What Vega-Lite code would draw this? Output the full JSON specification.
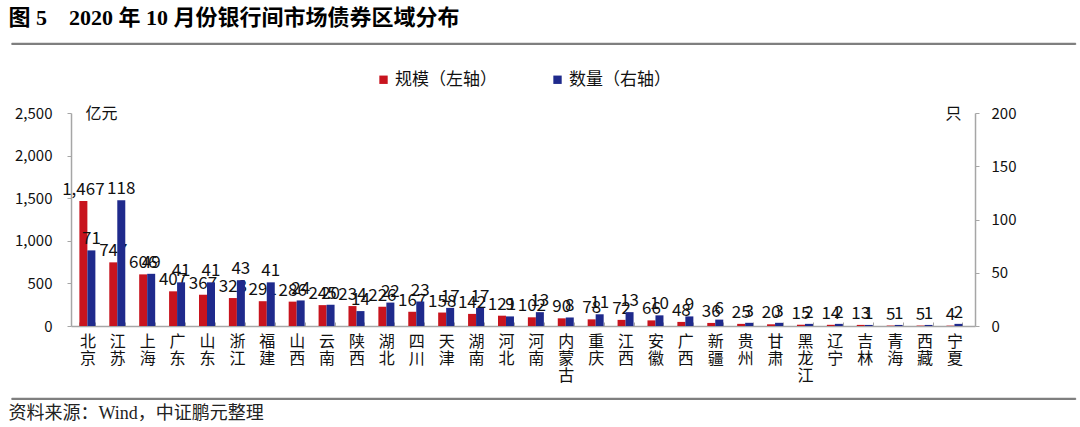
{
  "$schema": "https://vega.github.io/schema/vega-lite/v6.json",
  "padding": {"left": 8, "top": 6, "right": 8, "bottom": 0},
  "autosize": {"type": "pad"},
  "background": "white",
  "spacing": 12,
  "center": true,
  "resolve": {"scale": {"color": "independent"}, "legend": {"color": "independent"}},
  "config": {
    "view": {"stroke": null},
    "font": "Noto Sans CJK SC",
    "legend": {"layout": {"top": {"anchor": "middle"}}}
  },
  "vconcat": [
    {
      "width": 1064,
      "height": 1,
      "view": {"stroke": "#7f7f7f", "strokeWidth": 1},
      "title": {
        "text": "图 5\u00a0\u00a0\u00a0\u00a02020 年 10 月份银行间市场债券区域分布",
        "anchor": "start",
        "font": "Liberation Serif, Noto Sans CJK SC",
        "fontSize": 22,
        "fontWeight": "bold",
        "color": "#000000",
        "offset": 11
      },
      "data": {"values": [{"t": 0}]},
      "mark": {"type": "point", "opacity": 0},
      "encoding": {
        "x": {"field": "t", "type": "quantitative", "scale": {"domain": [0, 1]},
          "axis": {"orient": "top", "labels": false, "ticks": false, "title": null, "grid": false, "domainColor": "#7f7f7f", "domainWidth": 1.5}}
      }
    },
    {
      "width": 904,
      "height": 213,
      "data": {
        "values": [
          {"p": "北京", "s": "规模（左轴）", "v": 1467}, {"p": "北京", "s": "数量（右轴）", "v": 71},
          {"p": "江苏", "s": "规模（左轴）", "v": 747}, {"p": "江苏", "s": "数量（右轴）", "v": 118},
          {"p": "上海", "s": "规模（左轴）", "v": 606}, {"p": "上海", "s": "数量（右轴）", "v": 49},
          {"p": "广东", "s": "规模（左轴）", "v": 407}, {"p": "广东", "s": "数量（右轴）", "v": 41},
          {"p": "山东", "s": "规模（左轴）", "v": 367}, {"p": "山东", "s": "数量（右轴）", "v": 41},
          {"p": "浙江", "s": "规模（左轴）", "v": 328}, {"p": "浙江", "s": "数量（右轴）", "v": 43},
          {"p": "福建", "s": "规模（左轴）", "v": 291}, {"p": "福建", "s": "数量（右轴）", "v": 41},
          {"p": "山西", "s": "规模（左轴）", "v": 286}, {"p": "山西", "s": "数量（右轴）", "v": 24},
          {"p": "云南", "s": "规模（左轴）", "v": 245}, {"p": "云南", "s": "数量（右轴）", "v": 20},
          {"p": "陕西", "s": "规模（左轴）", "v": 234}, {"p": "陕西", "s": "数量（右轴）", "v": 14},
          {"p": "湖北", "s": "规模（左轴）", "v": 226}, {"p": "湖北", "s": "数量（右轴）", "v": 22},
          {"p": "四川", "s": "规模（左轴）", "v": 167}, {"p": "四川", "s": "数量（右轴）", "v": 23},
          {"p": "天津", "s": "规模（左轴）", "v": 158}, {"p": "天津", "s": "数量（右轴）", "v": 17},
          {"p": "湖南", "s": "规模（左轴）", "v": 142}, {"p": "湖南", "s": "数量（右轴）", "v": 17},
          {"p": "河北", "s": "规模（左轴）", "v": 121}, {"p": "河北", "s": "数量（右轴）", "v": 9},
          {"p": "河南", "s": "规模（左轴）", "v": 102}, {"p": "河南", "s": "数量（右轴）", "v": 13},
          {"p": "内蒙古", "s": "规模（左轴）", "v": 90}, {"p": "内蒙古", "s": "数量（右轴）", "v": 8},
          {"p": "重庆", "s": "规模（左轴）", "v": 78}, {"p": "重庆", "s": "数量（右轴）", "v": 11},
          {"p": "江西", "s": "规模（左轴）", "v": 72}, {"p": "江西", "s": "数量（右轴）", "v": 13},
          {"p": "安徽", "s": "规模（左轴）", "v": 66}, {"p": "安徽", "s": "数量（右轴）", "v": 10},
          {"p": "广西", "s": "规模（左轴）", "v": 48}, {"p": "广西", "s": "数量（右轴）", "v": 9},
          {"p": "新疆", "s": "规模（左轴）", "v": 36}, {"p": "新疆", "s": "数量（右轴）", "v": 6},
          {"p": "贵州", "s": "规模（左轴）", "v": 25}, {"p": "贵州", "s": "数量（右轴）", "v": 3},
          {"p": "甘肃", "s": "规模（左轴）", "v": 20}, {"p": "甘肃", "s": "数量（右轴）", "v": 3},
          {"p": "黑龙江", "s": "规模（左轴）", "v": 15}, {"p": "黑龙江", "s": "数量（右轴）", "v": 2},
          {"p": "辽宁", "s": "规模（左轴）", "v": 14}, {"p": "辽宁", "s": "数量（右轴）", "v": 2},
          {"p": "吉林", "s": "规模（左轴）", "v": 13}, {"p": "吉林", "s": "数量（右轴）", "v": 1},
          {"p": "青海", "s": "规模（左轴）", "v": 5}, {"p": "青海", "s": "数量（右轴）", "v": 1},
          {"p": "西藏", "s": "规模（左轴）", "v": 5}, {"p": "西藏", "s": "数量（右轴）", "v": 1},
          {"p": "宁夏", "s": "规模（左轴）", "v": 4}, {"p": "宁夏", "s": "数量（右轴）", "v": 2}
        ]
      },
      "encoding": {
        "x": {
          "field": "p",
          "type": "nominal",
          "sort": null,
          "scale": {"paddingInner": 0.465, "paddingOuter": 0.35, "align": 0.4},
          "axis": {
            "title": null,
            "labelAngle": 0,
            "labelExpr": "split(datum.label, '')",
            "labelFontSize": 16,
            "labelLineHeight": 17,
            "labelColor": "#111111",
            "labelPadding": 11,
            "labelBaseline": "top",
            "tickBand": "extent",
            "tickSize": -4,
            "tickColor": "#a6a6a6",
            "domainColor": "#a6a6a6",
            "domainWidth": 1.5
          }
        },
        "xOffset": {"field": "s", "type": "nominal", "scale": {"domain": ["规模（左轴）", "数量（右轴）"], "paddingInner": 0}},
        "color": {
          "field": "s",
          "type": "nominal",
          "scale": {"domain": ["规模（左轴）", "数量（右轴）"], "range": ["#c8141e", "#1f2a8c"]},
          "legend": {
            "orient": "top",
            "direction": "horizontal",
            "title": null,
            "symbolType": "square",
            "symbolSize": 70,
            "symbolStrokeWidth": 0,
            "labelFontSize": 17,
            "labelColor": "#111111",
            "columnPadding": 52,
            "labelOffset": 3,
            "offset": 13,
            "padding": 12
          }
        }
      },
      "layer": [
        {
          "transform": [{"filter": "datum.s === '规模（左轴）'"}],
          "encoding": {
            "y": {
              "field": "v",
              "type": "quantitative",
              "scale": {"domain": [0, 2500], "nice": false},
              "axis": {
                "orient": "left",
                "values": [0, 500, 1000, 1500, 2000, 2500],
                "format": ",.0f",
                "labelExpr": "'\u3000\u00a0\u00a0\u00a0' + datum.label",
                "grid": false,
                "title": "亿元",
                "titleAngle": 0,
                "titleX": 14,
                "titleY": 0,
                "titleAlign": "left",
                "titleBaseline": "middle",
                "titleFontSize": 16,
                "titleFontWeight": "normal",
                "titleColor": "#111111",
                "labelFontSize": 15,
                "labelColor": "#111111",
                "labelPadding": 15,
                "tickSize": 4,
                "tickColor": "#a6a6a6",
                "domainColor": "#a6a6a6",
                "domainWidth": 1.5
              }
            }
          },
          "layer": [
            {"mark": {"type": "bar"}},
            {
              "mark": {"type": "text", "baseline": "bottom", "dy": -2, "fontSize": 17, "color": "#111111"},
              "encoding": {"text": {"field": "v", "type": "quantitative", "format": ",.0f"}, "color": {"value": "#111111"}}
            }
          ]
        },
        {
          "transform": [{"filter": "datum.s === '数量（右轴）'"}],
          "encoding": {
            "y": {
              "field": "v",
              "type": "quantitative",
              "scale": {"domain": [0, 200], "nice": false},
              "axis": {
                "orient": "right",
                "values": [0, 50, 100, 150, 200],
                "format": ".0f",
                "grid": false,
                "title": "只",
                "titleAngle": 0,
                "titleX": -14,
                "titleY": 0,
                "titleAlign": "right",
                "titleBaseline": "middle",
                "titleFontSize": 16,
                "titleFontWeight": "normal",
                "titleColor": "#111111",
                "labelFontSize": 15,
                "labelColor": "#111111",
                "labelPadding": 12,
                "tickSize": 4,
                "tickColor": "#a6a6a6",
                "domainColor": "#a6a6a6",
                "domainWidth": 1.5
              }
            }
          },
          "layer": [
            {"mark": {"type": "bar"}},
            {
              "mark": {"type": "text", "baseline": "bottom", "dy": -2, "fontSize": 17, "color": "#111111"},
              "encoding": {"text": {"field": "v", "type": "quantitative", "format": ".0f"}, "color": {"value": "#111111"}}
            }
          ]
        }
      ],
      "resolve": {"scale": {"y": "independent"}}
    },
    {
      "width": 1064,
      "height": 1,
      "view": {"stroke": "#7f7f7f", "strokeWidth": 1},
      "title": {
        "text": "资料来源：Wind，中证鹏元整理",
        "orient": "bottom",
        "anchor": "start",
        "font": "Liberation Serif, Noto Sans CJK SC",
        "fontSize": 18,
        "fontWeight": "normal",
        "color": "#222222",
        "offset": 4
      },
      "data": {"values": [{"t": 0}]},
      "mark": {"type": "point", "opacity": 0},
      "encoding": {
        "x": {"field": "t", "type": "quantitative", "scale": {"domain": [0, 1]},
          "axis": {"orient": "top", "labels": false, "ticks": false, "title": null, "grid": false, "domainColor": "#7f7f7f", "domainWidth": 1.5}}
      }
    }
  ]
}
